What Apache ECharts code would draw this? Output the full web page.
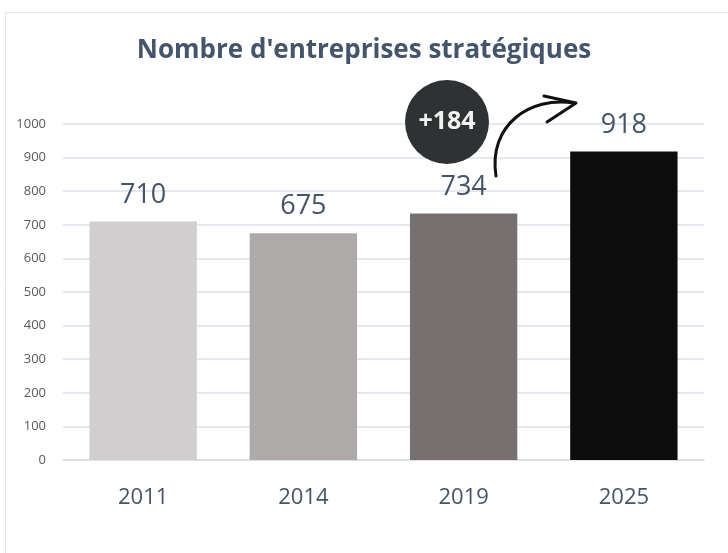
<!DOCTYPE html>
<html>
<head>
<meta charset="utf-8">
<script src="https://cdn.jsdelivr.net/npm/echarts@6/dist/echarts.min.js"></script>
<style>
  html, body { margin: 0; padding: 0; background: #fff; }
  #chart { width: 728px; height: 553px; }
</style>
</head>
<body>
<div id="chart"></div>
<script>
// data
const years = ['2011', '2014', '2019', '2025'];
const companies = [710, 675, 734, 918];
const barColors = ['#d0cecf', '#aeaaa9', '#767170', '#0d0d0d'];
const increase = '+184';

let myChart = echarts.init(document.getElementById('chart'));

myChart.setOption({
    backgroundColor: '#fff',
    animation: false,
    title: {
        text: "Nombre d'entreprises stratégiques",
        left: 'center',
        top: 33,
        textStyle: {
            fontFamily: 'Open Sans',
            fontSize: 26,
            fontWeight: 'bold',
            color: '#44546a'
        }
    },
    grid: { left: 63, right: 24, top: 124, bottom: 93 },
    xAxis: {
        type: 'category',
        data: years,
        axisTick: { show: false },
        axisLine: { lineStyle: { color: '#d9dde6', width: 1.5 } },
        axisLabel: {
            margin: 27,
            fontFamily: 'Open Sans',
            fontSize: 22,
            color: '#44546a'
        }
    },
    yAxis: {
        type: 'value',
        min: 0,
        max: 1000,
        interval: 100,
        axisLine: { show: false },
        axisTick: { show: false },
        axisLabel: {
            margin: 17,
            fontFamily: 'Open Sans',
            fontSize: 13,
            color: '#595959',
            formatter: v => String(v)
        },
        splitLine: { lineStyle: { color: '#dde2ea', width: 1.5 } }
    },
    series: [{
        type: 'bar',
        barWidth: '67%',
        data: companies.map((v, i) => ({ value: v, itemStyle: { color: barColors[i] } })),
        label: {
            show: true,
            position: 'top',
            distance: 13,
            fontFamily: 'Open Sans',
            fontSize: 27,
            color: '#44546a'
        }
    }],
    graphic: [
        {
            type: 'rect',
            z: 100,
            shape: { x: 5.5, y: 12.5, width: 740, height: 560 },
            style: { fill: 'none', stroke: '#e3e6ec', lineWidth: 1 },
            silent: true
        },
        {
            type: 'circle',
            z: 100,
            shape: { cx: 447, cy: 122, r: 42 },
            style: { fill: '#2f3233' }
        },
        {
            type: 'text',
            z: 101,
            x: 447,
            y: 122,
            style: {
                text: increase,
                align: 'center',
                verticalAlign: 'middle',
                fontFamily: 'Open Sans',
                fontWeight: 'bold',
                fontSize: 25,
                fill: '#f2f2f2'
            }
        },
        {
            type: 'bezierCurve',
            z: 100,
            shape: { x1: 496, y1: 176, x2: 574, y2: 103, cpx1: 488, cpy1: 125, cpx2: 530, cpy2: 96 },
            style: { stroke: '#111', lineWidth: 3, fill: 'none', lineCap: 'round' }
        },
        {
            type: 'polyline',
            z: 100,
            shape: { points: [[544, 96], [576, 103], [547, 122]] },
            style: { stroke: '#111', lineWidth: 3, fill: 'none', lineCap: 'round', lineJoin: 'round' }
        }
    ]
});
</script>
</body>
</html>
